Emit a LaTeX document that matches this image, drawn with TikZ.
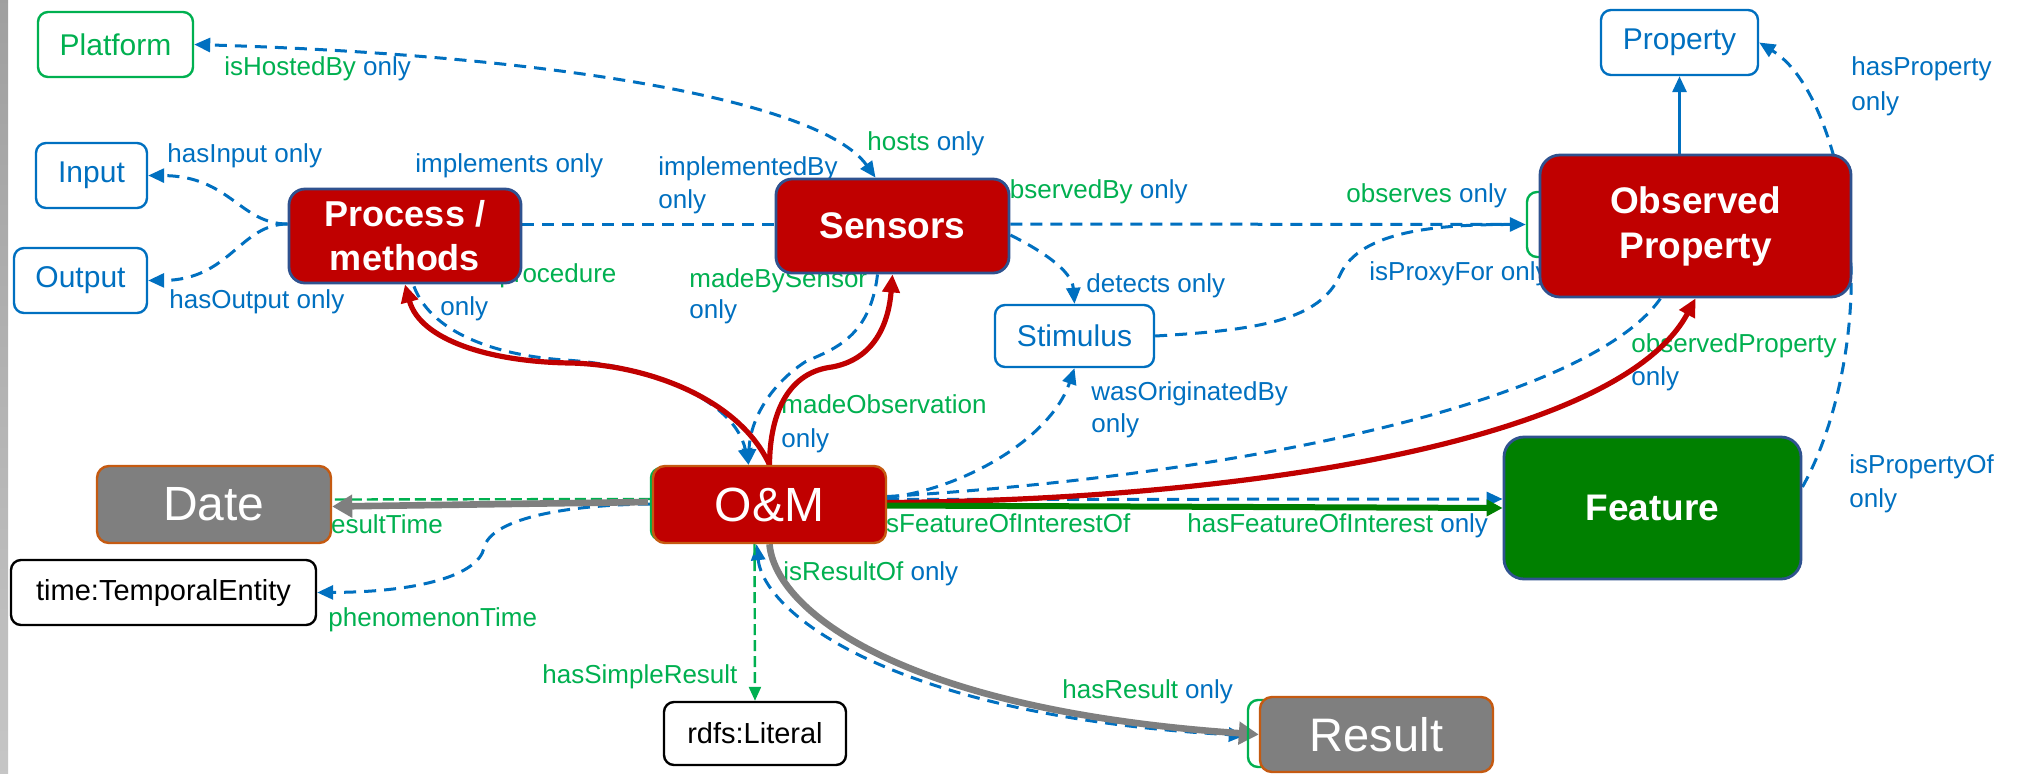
\documentclass[tikz,border=0pt]{standalone}
\usepackage{fontspec}
\setmainfont{Liberation Sans}
\usetikzlibrary{arrows.meta,calc}
\pgfdeclarelayer{bg}
\pgfsetlayers{bg,main}
\definecolor{cblue}{HTML}{0070C0}
\definecolor{cgreen}{HTML}{00B050}
\definecolor{cred}{HTML}{C00000}
\definecolor{cnavy}{HTML}{2F528F}
\definecolor{corange}{HTML}{C55A11}
\definecolor{cgray}{HTML}{7F7F7F}
\definecolor{cdkgreen}{HTML}{008000}
\newcommand\gtx[1]{\textcolor{cgreen}{#1}}
\begin{document}
\begin{tikzpicture}[x=0.5pt,y=-0.5pt,
  box/.style={draw, inner sep=0pt, align=center, line width=1.2pt},
  lbox/.style={box, rounded corners=5pt, fill=white, font=\fontsize{15}{18}\selectfont},
  bluebox/.style={lbox, draw=cblue, text=cblue},
  greenbox/.style={lbox, draw=cgreen, text=cgreen},
  blackbox/.style={lbox, draw=black, text=black, font=\fontsize{14.5}{17}\selectfont},
  redbox/.style={box, rounded corners=8pt, fill=cred, draw=cnavy, line width=1.4pt, text=white, font=\bfseries\fontsize{18.5}{22.5}\selectfont},
  featbox/.style={redbox, fill=cdkgreen, rounded corners=10pt},
  graybox/.style={box, rounded corners=6pt, fill=cgray, draw=corange, text=white, font=\fontsize{24}{28}\selectfont},
  ombox/.style={graybox, fill=cred},
  hidbox/.style={box, rounded corners=5pt, draw=cgreen, fill=none},
  lbl/.style={inner sep=0pt, anchor=base west, text=cblue, font=\fontsize{13}{15}\selectfont},
  bdash/.style={draw=cblue, line width=1.5pt, dash pattern=on 6pt off 4pt},
  bsolid/.style={draw=cblue, line width=1.5pt},
  gdash/.style={draw=cgreen, line width=1.2pt, dash pattern=on 5.5pt off 2.5pt},
  barrow/.style={-{Triangle[length=8pt,width=7pt]}},
  bboth/.style={{Triangle[length=8pt,width=7pt]}-{Triangle[length=8pt,width=7pt]}},
  garrow/.style={-{Triangle[length=7pt,width=6pt]}},
  rline/.style={draw=cred, line width=2.6pt, -{Triangle[length=9pt,width=8.5pt]}},
  gline/.style={draw=cdkgreen, line width=3pt, -{Triangle[length=8pt,width=8pt]}},
  grayline/.style={draw=cgray, line width=3.3pt, -{Triangle[length=10pt,width=11pt]}}
]
\useasboundingbox (0,0) rectangle (2026,773);

% ---------- nodes ----------
\node[greenbox, minimum width=77.5pt, minimum height=32.5pt] (platform) at (115.5,44.5) {Platform};
\node[bluebox, minimum width=55.5pt, minimum height=32.5pt] (input) at (91.5,175.5) {Input};
\node[bluebox, minimum width=66.5pt, minimum height=32.5pt] (output) at (80.5,280.5) {Output};
\node[redbox, font=\bfseries\fontsize{18}{22}\selectfont, minimum width=116pt, minimum height=47pt] (process) at (405,236) {Process /\\methods};
\node[redbox, minimum width=116.5pt, minimum height=47pt] (sensors) at (892.5,226) {Sensors};
\node[bluebox, minimum width=78.5pt, minimum height=32.5pt] (property) at (1679.5,42.5) {Property};
\node[hidbox, minimum width=36.5pt, minimum height=32.5pt] (obsgreen) at (1563.5,224.5) {};
\node[redbox, rounded corners=10pt, minimum width=155.5pt, minimum height=71pt] (obsprop) at (1695.5,226) {Observed\\Property};
\node[bluebox, minimum width=79.5pt, minimum height=31pt] (stimulus) at (1074.5,336) {Stimulus};
\node[graybox, minimum width=117pt, minimum height=38.5pt] (date) at (214,504.5) {Date};
\node[hidbox, minimum width=24.5pt, minimum height=36pt] (omgreen) at (675.5,504) {};
\node[ombox, minimum width=116.5pt, minimum height=38.5pt] (om) at (769.5,504.5) {O\&M};
\node[featbox, minimum width=148.5pt, minimum height=71pt] (feature) at (1652.5,508) {Feature};
\node[blackbox, minimum width=152.5pt, minimum height=32.5pt] (time) at (163.5,592.5) {time:TemporalEntity};
\node[blackbox, minimum width=91pt, minimum height=31.5pt] (rdfs) at (755,733.5) {rdfs:Literal};
\node[hidbox, minimum width=26pt, minimum height=33.5pt] (resgreen) at (1274,733.5) {};
\node[graybox, font=\fontsize{23.5}{28}\selectfont, minimum width=116.5pt, minimum height=37.5pt] (result) at (1376.5,734.5) {Result};

\begin{pgfonlayer}{bg}
\fill[white] (0,0) rectangle (2026,773);
\shade[top color=gray!75, bottom color=gray!45] (0,0) rectangle (8,773);
% ---------- labels ----------
\node[lbl] (l1) at (224,75) {\gtx{isHostedBy} only};
\node[lbl] (l2) at (167,162) {hasInput only};
\node[lbl] (l3) at (415,172) {implements only};
\node[lbl] (l4) at (169,308) {hasOutput only};
\node[lbl] (l5) at (499,282) {\gtx{procedure}};
\node[lbl] (l6) at (440,315) {only};
\node[lbl] (l7a) at (658,175) {implementedBy};
\node[lbl] (l7b) at (658,208) {only};
\node[lbl] (l8) at (867,150) {\gtx{hosts} only};
\node[lbl] (l9) at (995,198) {\gtx{observedBy} only};
\node[lbl] (l10) at (1086,292) {detects only};
\node[lbl] (l11a) at (689,287) {\gtx{madeBySensor}};
\node[lbl] (l11b) at (689,318) {only};
\node[lbl] (l12a) at (781,413) {\gtx{madeObservation}};
\node[lbl] (l12b) at (781,447) {only};
\node[lbl] (l13a) at (1091,400) {wasOriginatedBy};
\node[lbl] (l13b) at (1091,432) {only};
\node[lbl] (l14) at (1369,280) {isProxyFor only};
\node[lbl] (l15) at (1346,202) {\gtx{observes} only};
\node[lbl] (l16a) at (1851,75) {hasProperty};
\node[lbl] (l16b) at (1851,110) {only};
\node[lbl] (l17a) at (1631,352) {\gtx{observedProperty}};
\node[lbl] (l17b) at (1631,385) {only};
\node[lbl] (l18a) at (1849,473) {isPropertyOf};
\node[lbl] (l18b) at (1849,507) {only};
\node[lbl] (l19) at (880,532) {\gtx{isFeatureOfInterestOf}};
\node[lbl] (l20) at (1187,532) {\gtx{hasFeatureOfInterest} only};
\node[lbl] (l21) at (783,580) {\gtx{isResultOf} only};
\node[lbl] (l22) at (542,683) {\gtx{hasSimpleResult}};
\node[lbl] (l23) at (1062,698) {\gtx{hasResult} only};
\node[lbl] (l24) at (322,533) {\gtx{resultTime}};
\node[lbl] (l25) at (328,626) {\gtx{phenomenonTime}};

% ---------- blue dashed connectors ----------
\draw[bdash, bboth] ($(sensors.north)+(-17,0)$) .. controls (820,100) and (550,55) .. (platform.east);
\draw[bdash, barrow] ($(process.west)+(0,-12)$) .. controls (240,224) and (230,176) .. (input.east);
\draw[bdash, barrow] ($(process.west)+(0,-12)$) .. controls (240,224) and (230,280) .. (output.east);
\draw[bdash] ($(process.east)+(0,-12)$) -- ($(sensors.west)+(0,-2)$);
\draw[bdash, barrow] ($(sensors.east)+(0,-2)$) -- (obsgreen.west);
\draw[bdash, barrow] ($(sensors.east)+(0,9)$) .. controls (1040,250) and (1072,270) .. (stimulus.north);
\draw[bdash] (stimulus.east) .. controls (1260,330) and (1320,320) .. (1340,275) .. controls (1360,230) and (1440,224) .. ($(obsgreen.west)+(-8,0)$);
\draw[bdash, barrow] ($(feature.east)+(0,-21)$) .. controls (1840,420) and (1856,320) .. (1850,250) .. controls (1845,180) and (1820,80) .. (property.east);
\draw[bsolid, barrow] (property.south |- obsprop.north) -- (property.south);
\draw[bdash] ($(om.east)+(0,-8)$) .. controls (1250,475) and (1590,400) .. ($(obsprop.south)+(-35,0)$);
\draw[bdash, barrow] ($(om.east)+(0,-7)$) .. controls (960,490) and (1050,440) .. (stimulus.south);
\draw[bdash, barrow] ($(om.east)+(0,-5)$) -- ($(feature.west)+(0,-9)$);
\draw[bdash, barrow] ($(process.south)+(9,2)$) .. controls (430,330) and (490,355) .. (565,360) .. controls (650,365) and (735,400) .. ($(om.north)+(-21,0)$);
\draw[bdash, barrow] ($(sensors.south)+(-15,0)$) .. controls (870,340) and (830,350) .. (805,362) .. controls (770,385) and (750,420) .. ($(om.north)+(-21,0)$);
\draw[bdash, barrow] (omgreen.west) .. controls (560,505) and (490,520) .. (484,548) .. controls (478,575) and (420,592) .. (time.east);
\draw[bdash, bboth] ($(om.south)+(-13,0)$) .. controls (764,614) and (895,716) .. ($(resgreen.west)+(-2,2)$);

% ---------- green dashed ----------
\draw[gdash] ($(omgreen.west)+(0,-5)$) -- ($(date.east)+(0,-5)$);
\draw[gdash, garrow] ($(om.south)+(-15,0)$) -- (rdfs.north);

% ---------- thick connectors ----------
\draw[rline] (om.north) .. controls (740,400) and (650,365) .. (571,363) .. controls (490,362) and (420,340) .. (process.south);
\draw[rline] (om.north) .. controls (770,410) and (790,372) .. (832,367) .. controls (870,360) and (888,330) .. (sensors.south);
\draw[rline] ($(om.east)+(0,-2)$) .. controls (1250,500) and (1620,440) .. (obsprop.south);
\draw[gline] ($(om.east)+(0,1)$) -- (feature.west);
\draw[grayline] ($(omgreen.west)+(-2,-2)$) -- ($(date.east)+(0,2)$);
\draw[grayline] (om.south) .. controls (775,610) and (900,710) .. (result.west);
\end{pgfonlayer}
\end{tikzpicture}
\end{document}
